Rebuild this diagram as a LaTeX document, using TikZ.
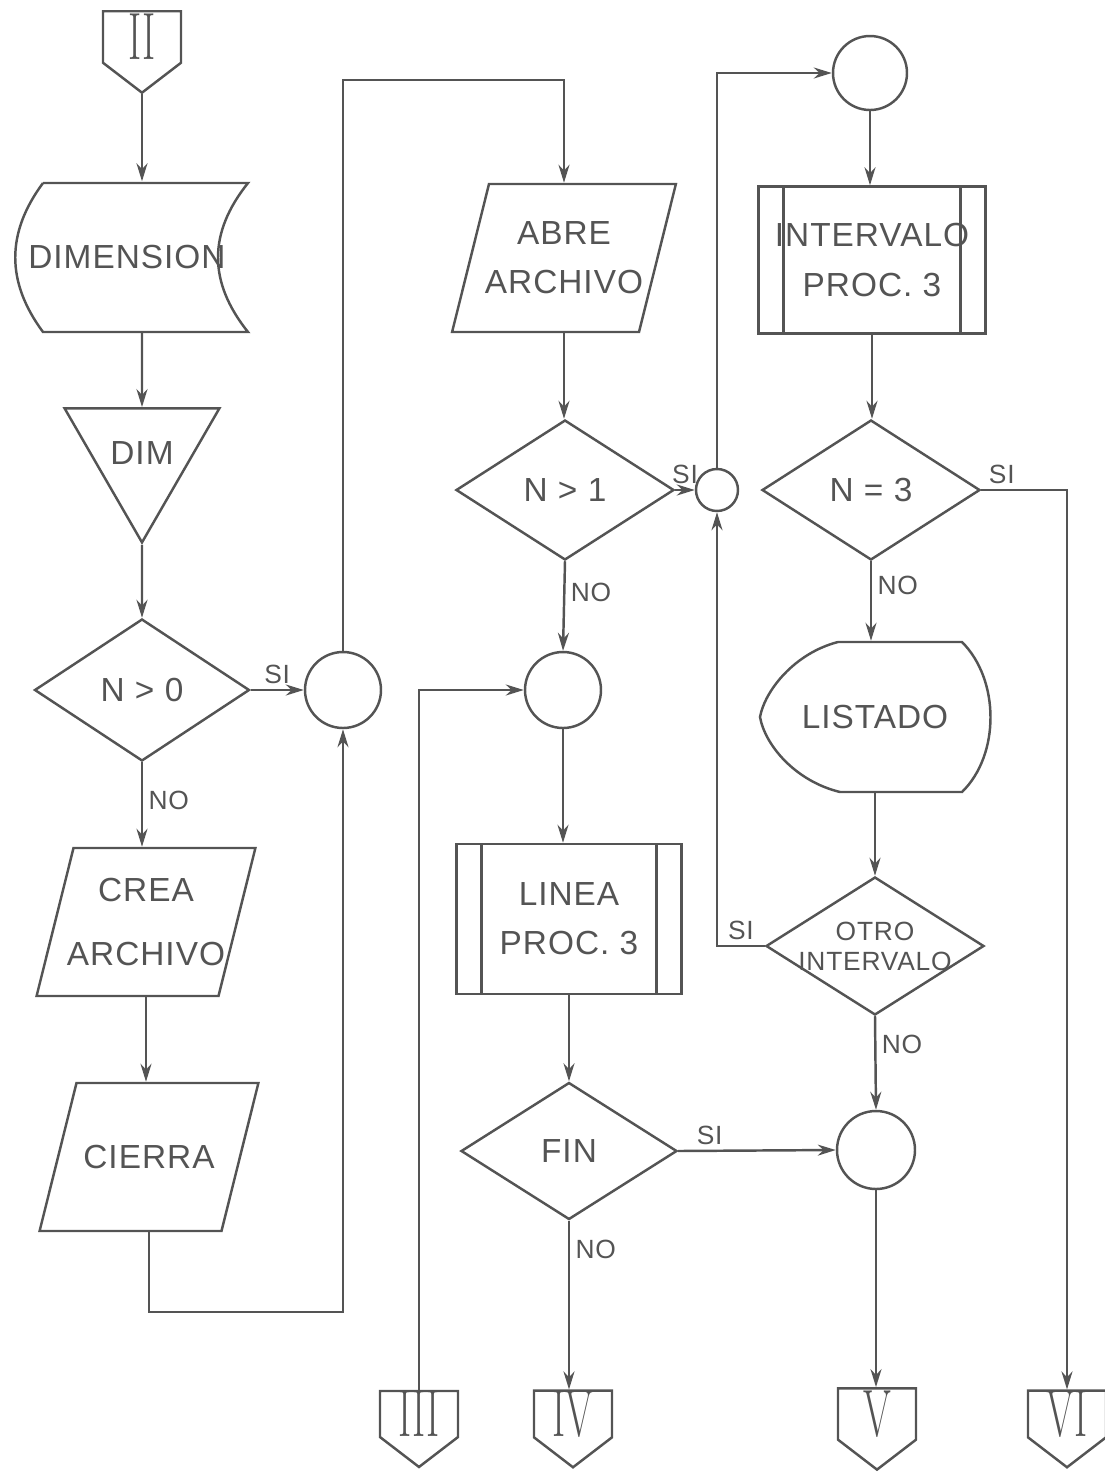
\documentclass[tikz,border=0pt]{standalone}
\usepackage{fontspec}
\usepackage{graphicx}
\usetikzlibrary{shapes.geometric,shapes.symbols,arrows.meta}
\newfontfamily\letras{Liberation Sans}[LetterSpace=3]
\definecolor{tinta}{gray}{0.33}
\newcommand{\romano}[1]{\scalebox{0.6}[1]{\rmfamily\fontsize{19}{19}\selectfont #1}}

\tikzset{
  texto/.style={text=tinta, align=center, font=\letras\fontsize{9.5}{14}\selectfont},
  base/.style={texto, draw=tinta, line width=0.7pt},
  conector/.style={base, circle, minimum size=7.6mm, inner sep=0pt},
  decision/.style={base, diamond, minimum width=21.8mm, minimum height=14mm, inner sep=0pt},
  entrada/.style={base, trapezium, trapezium left angle=76, trapezium right angle=104,
    inner xsep=7.25mm, inner ysep=7.4mm, label={[texto]center:#1}},
  predef/.style={base, rectangle, minimum width=22.5mm, minimum height=15mm, inner sep=0pt,
    path picture={\draw[tinta, line width=0.7pt]
      ([xshift=2.5mm]path picture bounding box.north west) -- ([xshift=2.5mm]path picture bounding box.south west)
      ([xshift=-2.5mm]path picture bounding box.north east) -- ([xshift=-2.5mm]path picture bounding box.south east);}},
  pagina/.style={base, signal, signal to=south, signal from=nowhere, signal pointer angle=105,
    minimum width=7.8mm, minimum height=6.2mm, inner sep=0pt, font=\normalfont},
  etiq/.style={text=tinta, font=\letras\fontsize{7.5}{8}\selectfont, inner sep=1.5pt},
  flujo/.style={draw=tinta, line width=0.7pt, ->},
}

\begin{document}
\begin{tikzpicture}[x=0.1mm, y=-0.1mm, >={Stealth[length=1.8mm,width=1.1mm]}]
  \useasboundingbox (0,0) rectangle (1105,1473);

  % columna izquierda
  \node[pagina] (ii) at (142,37) {\romano{II}};
  \node[base, draw=none, minimum width=21mm, minimum height=14.9mm] (dimension) at (142,257) {DIMENSION\hspace*{3mm}};
  \draw[tinta, line width=0.7pt] (43,183) -- (248,183) .. controls (208,233) and (208,282) .. (248,332)
    -- (43,332) .. controls (6,282) and (6,233) .. (43,183);
  \node[base, regular polygon, regular polygon sides=3, shape border rotate=180, minimum size=14.8mm, inner sep=0pt] (dim) at (142,453) {DIM};
  \node[decision, minimum width=21.5mm, minimum height=14.2mm] (n0) at (142,690) {N > 0};
  \node[conector] (c1) at (343,690) {};
  \node[entrada={CREA\\[4pt]ARCHIVO}] (crea) at (146,922) {};
  \node[entrada=CIERRA] (cierra) at (149,1157) {};

  % columna central
  \coordinate (arriba1) at (343,80);
  \node[entrada={ABRE\\ARCHIVO}, inner xsep=7.5mm] (abre) at (564,258) {};
  \node[decision] (n1) at (565,490) {N > 1};
  \node[conector, minimum size=4.2mm] (c2) at (717,490) {};
  \node[conector] (c3) at (563,690) {};
  \node[predef] (linea) at (569,919) {LINEA\\PROC. 3};
  \node[decision, minimum width=21.6mm, minimum height=13.7mm] (fin) at (569,1151) {FIN};

  % columna derecha
  \node[conector, minimum size=7.4mm] (c5) at (870,73) {};
  \node[predef, minimum width=22.7mm, minimum height=14.7mm] (intervalo) at (872,260) {INTERVALO\\PROC. 3};
  \node[decision] (n3) at (871,490) {N = 3};
  \node[base, draw=none, minimum width=23mm, minimum height=15mm] (listado) at (875,717) {LISTADO};
  \draw[tinta, line width=0.7pt] (838,642) -- (962,642) .. controls (1000,680) and (1000,755) .. (962,792)
    -- (840,792) .. controls (795,781) and (765,745) .. (760,717) .. controls (765,690) and (795,653) .. (838,642);
  \node[decision, minimum height=13.8mm,
    label={[etiq, align=center, font=\letras\fontsize{7.5}{8.5}\selectfont]center:OTRO\\INTERVALO}] (otro) at (875,946) {};
  \node[conector, minimum size=7.8mm] (c4) at (876,1150) {};

  % conectores de pagina
  \node[pagina] (iii) at (419,1414) {\romano{III}};
  \node[pagina] (iv) at (573,1414) {\romano{IV}};
  \node[pagina] (v) at (877,1414) {\romano{V}};
  \node[pagina] (vi) at (1067,1414) {\romano{VI}};

  % flechas
  \draw[flujo] (ii.south) -- (ii.south |- dimension.north);
  \draw[flujo] (dimension.south) -- (dim.north);
  \draw[flujo] (dim.south) -- (n0.north);
  \draw[flujo] (n0.east) -- node[etiq, above] {SI} (c1.west);
  \draw[flujo] (n0.south) -- node[etiq, right, pos=0.45] {NO} (n0.south |- crea.north);
  \draw[flujo] (crea.south) -- (crea.south |- cierra.north);
  \draw[flujo] (cierra.south) -- ++(0,80) -| (c1.south);
  \draw[flujo] (c1.north) -- (arriba1) -| (abre.north);
  \draw[flujo] (abre.south) -- (abre.south |- n1.north);
  \draw[flujo] (n1.east) -- node[etiq, above] {SI} (c2.west);
  \draw[flujo] (n1.south) -- node[etiq, right, pos=0.35] {NO} (c3.north);
  \draw[flujo] (iii.north) |- (c3.west);
  \draw[flujo] (c3.south) -- (c3.south |- linea.north);
  \draw[flujo] (linea.south) -- (fin.north);
  \draw[flujo] (fin.east) -- node[etiq, above, pos=0.2] {SI} (c4.west);
  \draw[flujo] (fin.south) -- node[etiq, right, pos=0.17] {NO} (fin.south |- iv.north);
  \draw[flujo] (c2.north) |- (c5.west);
  \draw[flujo] (c5.south) -- (c5.south |- intervalo.north);
  \draw[flujo] (intervalo.south) -- (intervalo.south |- n3.north);
  \draw[flujo] (n3.east) -| node[etiq, above, pos=0.12] {SI} (vi.north);
  \draw[flujo] (n3.south) -- node[etiq, right, pos=0.3] {NO} (n3.south |- listado.north);
  \draw[flujo] (listado.south) -- (otro.north);
  \draw[flujo] (otro.west) -| node[etiq, above, pos=0.25] {SI} (c2.south);
  \draw[flujo] (otro.south) -- node[etiq, right, pos=0.3] {NO} (c4.north);
  \draw[flujo] (c4.south) -- (c4.south |- v.north);
\end{tikzpicture}
\end{document}
